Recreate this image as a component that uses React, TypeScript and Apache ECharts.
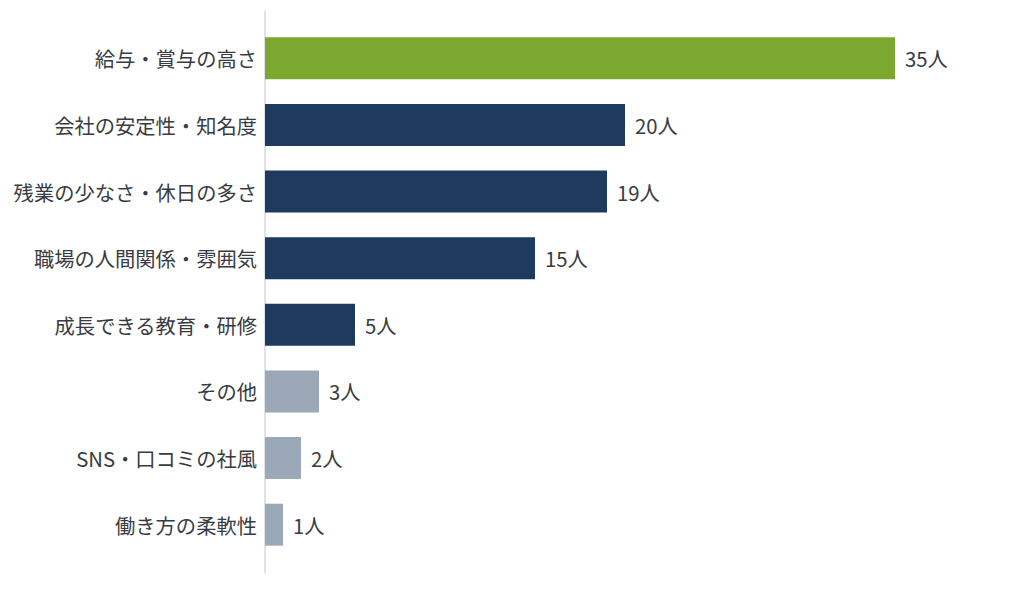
import React, { useEffect, useRef } from "react";
import * as echarts from "echarts";

const categories = [
  "給与・賞与の高さ",
  "会社の安定性・知名度",
  "残業の少なさ・休日の多さ",
  "職場の人間関係・雰囲気",
  "成長できる教育・研修",
  "その他",
  "SNS・口コミの社風",
  "働き方の柔軟性",
];
const values = [35, 20, 19, 15, 5, 3, 2, 1];
const colorGroups = ["top", "main", "main", "main", "main", "minor", "minor", "minor"];
const palette: Record<string, string> = {
  top: "#7da82f",
  main: "#1f3a5f",
  minor: "#9aa8b7",
};
const unit = "人";

const FONT = "'Noto Sans CJK JP', 'Noto Sans', sans-serif";

export default function App() {
  const ref = useRef<HTMLDivElement>(null);
  useEffect(() => {
    if (!ref.current) return;
    const chart = echarts.init(ref.current, undefined, { renderer: "svg" });
    chart.setOption({
      animation: false,
      backgroundColor: "#ffffff",
      grid: [
        { left: 265, right: 129, top: 25, bottom: 31, containLabel: false },
        { left: 265, width: 10, top: 11, bottom: 16, containLabel: false },
      ],
      xAxis: [
        {
          type: "value",
          gridIndex: 0,
          min: 0,
          max: 35,
          show: false,
        },
        { type: "value", gridIndex: 1, show: false },
      ],
      yAxis: [
        {
          type: "category",
          gridIndex: 0,
          data: categories,
          inverse: true,
          axisLine: { show: false },
          axisTick: { show: false },
          axisLabel: {
            color: "#383c42",
            fontSize: 20.3,
            fontFamily: FONT,
            margin: 8,
          },
        },
        {
          type: "category",
          gridIndex: 1,
          data: ["a"],
          axisLine: { show: true, lineStyle: { color: "#d3dae3", width: 1.5 } },
          axisTick: { show: false },
          axisLabel: { show: false },
        },
      ],
      series: [
        {
          type: "bar",
          xAxisIndex: 0,
          yAxisIndex: 0,
          barWidth: "63%",
          data: values.map((v, i) => ({
            value: v,
            itemStyle: { color: palette[colorGroups[i]] },
          })),
          label: {
            show: true,
            position: "right",
            distance: 10,
            formatter: (p: any) => `${p.value}${unit}`,
            color: "#383c42",
            fontSize: 20.3,
            fontFamily: FONT,
          },
        },
      ],
    });
    return () => chart.dispose();
  }, []);
  return (
    <div
      ref={ref}
      style={{ position: "fixed", left: 0, top: 0, width: 1024, height: 589 }}
    />
  );
}
